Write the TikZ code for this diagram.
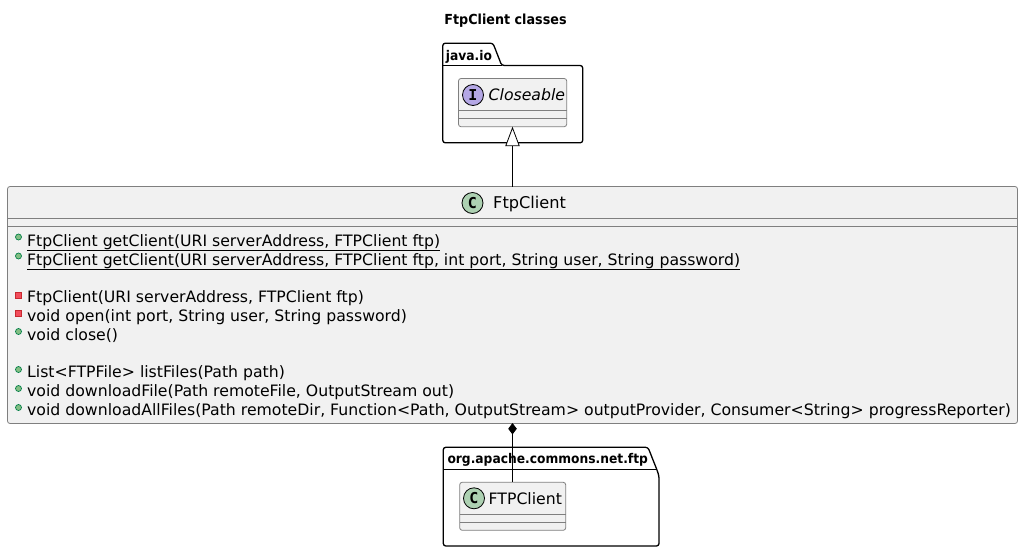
\documentclass[tikz,border=0pt]{standalone}
\usepackage{fontspec}
\setmainfont{DejaVu Sans}
\newfontfamily\tfont{DejaVu Sans}
\newfontfamily\bfont[FakeStretch=0.92]{DejaVu Sans Bold}
\newfontfamily\spotfont{DejaVu Sans Mono}
\usetikzlibrary{arrows.meta}
\definecolor{boxbg}{HTML}{F1F1F1}
\definecolor{boxln}{HTML}{7F7F7F}
\definecolor{spotC}{HTML}{ADD1B2}
\definecolor{spotI}{HTML}{B4A7E5}
\definecolor{pubfill}{HTML}{84BE84}
\definecolor{publn}{HTML}{038048}
\definecolor{prifill}{HTML}{F24D5C}
\definecolor{priln}{HTML}{C82930}
\tikzset{
 x=1pt,y=-1pt,
 cbox/.style={draw=boxln,fill=boxbg,line width=0.8pt,rounded corners=2.5pt},
 divl/.style={draw=boxln,line width=0.8pt},
 pkg/.style={draw=black,fill=white,line width=1.3pt,rounded corners=2.5pt,line join=round},
 txt/.style={inner sep=0pt,anchor=base west,font=\tfont\fontsize{15.7}{18}\selectfont},
 pkgt/.style={inner sep=0pt,anchor=base west,font=\bfont\fontsize{13.35}{15}\selectfont},
 spot/.style={circle,draw=black,line width=0.8pt,inner sep=0pt,minimum size=21pt,font=\spotfont\bfseries\fontsize{15}{17}\selectfont},
 pub/.style={circle,draw=publn,fill=pubfill,line width=0.7pt,inner sep=0pt,minimum size=6pt},
 pri/.style={rectangle,draw=priln,fill=prifill,line width=0.7pt,inner sep=0pt,minimum size=6pt},
 rel/.style={draw=black,line width=0.8pt},
}
\begin{document}
\begin{tikzpicture}
\useasboundingbox (0,0) rectangle (1023,552);
\node[inner sep=0pt,anchor=base,font=\bfont\fontsize{13.85}{15}\selectfont] (title) at (505.5,24) {FtpClient classes};
% package java.io
\draw[pkg] (442.8,65.5) -- (442.8,43.2) -- (493,43.2) -- (501.7,65.5) -- (582.7,65.5) -- (582.7,142.8) -- (442.8,142.8) -- cycle;
\draw[draw=black,line width=1.3pt] (442.8,65.5) -- (501.7,65.5);
\node[pkgt] (javaio) at (445.7,60) {java.io};
% Closeable
\draw[cbox] (458.5,78.5) rectangle (566.7,126.7);
\draw[divl] (458.5,110.5) -- (566.7,110.5) (458.5,118.5) -- (566.7,118.5);
\node[spot,fill=spotI] (ci) at (473,95) {I};
\node[txt,font=\tfont\itshape\fontsize{15.7}{18}\selectfont] (closeable) at (488.5,100.5) {Closeable};
\coordinate (closeableS) at (512.5,126.7);
% package ftp
\draw[pkg] (443.3,469.5) -- (443.3,447.3) -- (648,447.3) -- (656.8,469.5) -- (659,476) -- (659,546) -- (443.3,546) -- cycle;
\draw[draw=black,line width=1.3pt] (443.3,469.5) -- (656.8,469.5);
\node[pkgt] (ftppkg) at (447.3,463.5) {org.apache.commons.net.ftp};
% FTPClient
\draw[cbox] (459.7,482.3) rectangle (565.7,530.3);
\draw[divl] (459.7,514.3) -- (565.7,514.3) (459.7,522.3) -- (565.7,522.3);
\node[spot,fill=spotC] (cf) at (474,498.3) {C};
\node[txt] (ftpclient2) at (488.5,504) {FTPClient};
\coordinate (ftpclientN) at (512.5,482.3);
% main class
\draw[cbox] (7.5,186.5) rectangle (1017.5,423.5);
\draw[divl] (7.5,218.5) -- (1017.5,218.5) (7.5,226.5) -- (1017.5,226.5);
\node[spot,fill=spotC] (cm) at (472.5,203) {C};
\node[txt,font=\tfont\fontsize{16.2}{18}\selectfont] (ftpclient) at (493,208.7) {FtpClient};
\coordinate (mainN) at (512.5,186.5);
\coordinate (mainS) at (512.5,423);
% members
\node[pub] (i1) at (18.5,237) {};
\node[txt] (m1) at (27,246) {\underline{FtpClient getClient(URI serverAddress, FTPClient ftp)}};
\node[pub] (i2) at (18.5,256) {};
\node[txt] (m2) at (27,265) {\underline{FtpClient getClient(URI serverAddress, FTPClient ftp, int port, String user, String password)}};
\node[pri] (i3) at (18.5,295) {};
\node[txt] (m3) at (27,302) {FtpClient(URI serverAddress, FTPClient ftp)};
\node[pri] (i4) at (18.5,313) {};
\node[txt] (m4) at (27,321) {void open(int port, String user, String password)};
\node[pub] (i5) at (18.5,331.5) {};
\node[txt] (m5) at (27,340) {void close()};
\node[pub] (i6) at (18.5,369.5) {};
\node[txt] (m6) at (27,377.5) {List<FTPFile> listFiles(Path path)};
\node[pub] (i7) at (18.5,388.5) {};
\node[txt] (m7) at (27,396.5) {void downloadFile(Path remoteFile, OutputStream out)};
\node[pub] (i8) at (18.5,407.5) {};
\node[txt] (m8) at (27,415.5) {void downloadAllFiles(Path remoteDir, Function<Path, OutputStream> outputProvider, Consumer<String> progressReporter)};
% relations
\draw[rel,-{Triangle[open,fill=white,length=19.5pt,width=14.4pt,line width=0.8pt]}] (mainN) -- (closeableS);
\draw[rel,{Diamond[fill=black,length=11.5pt,width=8.5pt,line width=0.8pt]}-] (mainS) -- (ftpclientN);
\end{tikzpicture}
\end{document}
